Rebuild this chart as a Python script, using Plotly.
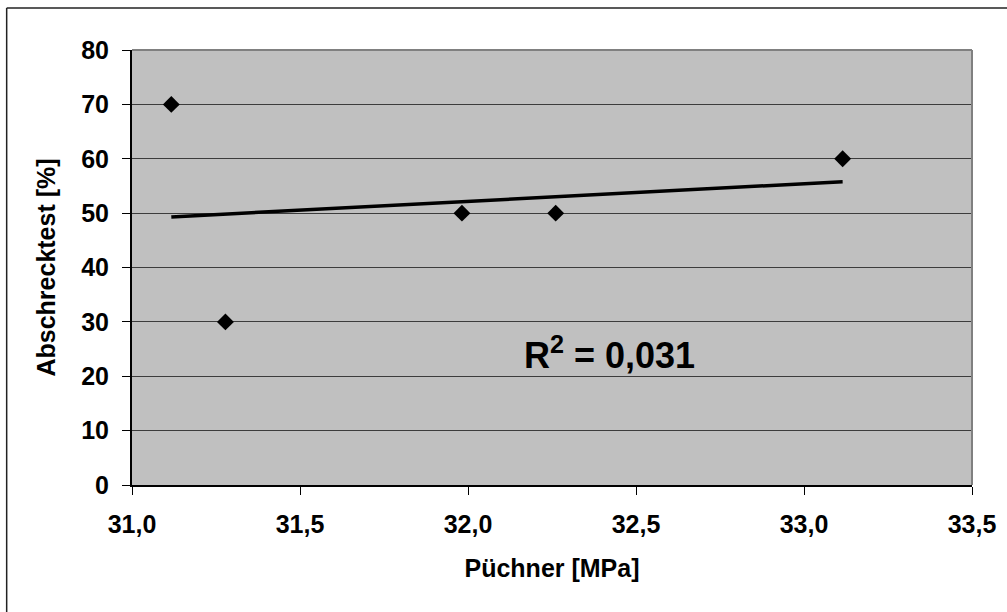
import numpy as np
import plotly.graph_objects as go

# Measurements: Püchner value vs. quench test result
puechner = [31.117, 31.278, 31.982, 32.261, 33.115]
abschreck = [70, 30, 50, 50, 60]

x_ticks = [31.0, 31.5, 32.0, 32.5, 33.0, 33.5]
x_ticklabels = ["31,0", "31,5", "32,0", "32,5", "33,0", "33,5"]
y_ticks = [0, 10, 20, 30, 40, 50, 60, 70, 80]

# Linear trend line and coefficient of determination
slope, intercept = np.polyfit(puechner, abschreck, 1)
x_line = np.array([min(puechner), max(puechner)])
y_line = slope * x_line + intercept
y_fit = slope * np.array(puechner) + intercept
ss_res = np.sum((np.array(abschreck) - y_fit) ** 2)
ss_tot = np.sum((np.array(abschreck) - np.mean(abschreck)) ** 2)
r2 = 1 - ss_res / ss_tot
r2_text = f"R<sup>2</sup> = {r2:.3f}".replace(".", ",")

FONT = "Liberation Sans, Arial, sans-serif"
BOLD = dict(family=FONT, size=25, color="black", weight="bold")

fig = go.Figure()
fig.add_trace(go.Scatter(
    x=x_line, y=y_line, mode="lines",
    line=dict(color="black", width=3.5),
    hoverinfo="skip", showlegend=False,
))
fig.add_trace(go.Scatter(
    x=puechner, y=abschreck, mode="markers",
    marker=dict(symbol="diamond", size=13, color="black"),
    showlegend=False,
))

fig.add_annotation(
    x=32.42, y=24.2, xref="x", yref="y",
    text=r2_text, showarrow=False,
    font=dict(family=FONT, size=36, color="black", weight="bold"),
)

# plot frame (top and right edges in gray)
fig.add_shape(type="line", xref="paper", yref="paper", x0=0, x1=1, y0=1, y1=1,
              line=dict(color="#808080", width=2), layer="above")
fig.add_shape(type="line", xref="paper", yref="paper", x0=1, x1=1, y0=0, y1=1,
              line=dict(color="#808080", width=2), layer="above")
# outer chart border
fig.add_shape(type="line", xref="paper", yref="paper", x0=-0.1492, x1=1.06, y0=1.0966, y1=1.0966,
              line=dict(color="#222222", width=1.5), layer="above")
fig.add_shape(type="line", xref="paper", yref="paper", x0=-0.1492, x1=-0.1492, y0=-0.35, y1=1.0966,
              line=dict(color="#222222", width=1.5), layer="above")

fig.update_xaxes(
    range=[31.0, 33.5], tickvals=x_ticks, ticktext=x_ticklabels,
    showgrid=False, zeroline=False,
    showline=True, linecolor="black", linewidth=2,
    ticks="outside", ticklen=8, tickcolor="black", tickwidth=1,
    ticklabelstandoff=8,
    tickfont=BOLD,
    title=dict(text="Püchner [MPa]", font=BOLD, standoff=22),
)
fig.update_yaxes(
    range=[0, 80], tickvals=y_ticks,
    showgrid=True, gridcolor="#3c3c3c", gridwidth=1, zeroline=False,
    showline=True, linecolor="black", linewidth=2,
    ticks="outside", ticklen=8, tickcolor="black", tickwidth=1,
    ticklabelstandoff=8,
    tickfont=BOLD,
    title=dict(text="Abschrecktest [%]", font=BOLD, standoff=18),
)
fig.update_layout(
    width=1007, height=612,
    margin=dict(l=132, r=35, t=50, b=127),
    plot_bgcolor="#c0c0c0", paper_bgcolor="white",
    font=dict(family=FONT, color="black"),
)

fig.write_html("out.html")
